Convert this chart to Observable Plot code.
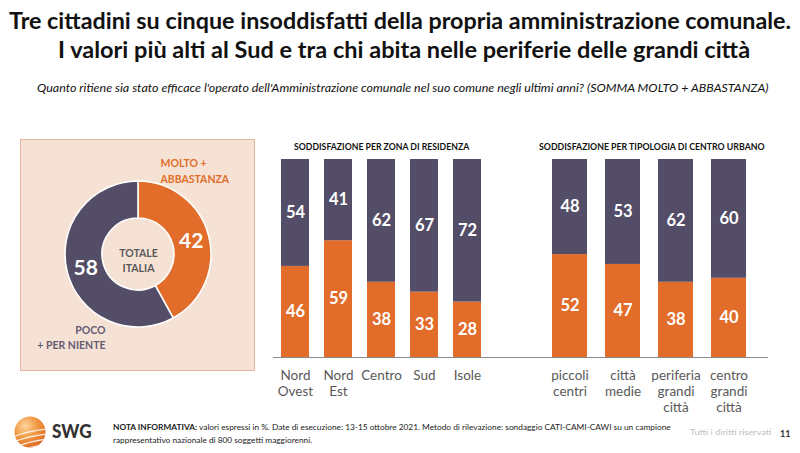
<!DOCTYPE html>
<html><head><meta charset="utf-8">
<script src="https://cdn.jsdelivr.net/npm/d3@7"></script>
<script src="https://cdn.jsdelivr.net/npm/@observablehq/plot@0.6"></script>
<style>
body{margin:0;background:#fff;font-family:Lato,"Open Sans",sans-serif;}
#page{position:relative;width:800px;height:453px;overflow:hidden;background:#fff;}
.t{position:absolute;white-space:nowrap;}
.abs{position:absolute;}
</style></head><body><div id="page"></div>
<script>
// ---- data ----
const zoneCats = ["Nord Ovest", "Nord Est", "Centro", "Sud", "Isole"];
const zoneLabels = ["Nord\nOvest", "Nord\nEst", "Centro", "Sud", "Isole"];
const zoneMolto = [46, 59, 38, 33, 28];
const zonePoco = [54, 41, 62, 67, 72];

const urbanCats = ["piccoli centri", "città medie", "periferia grandi città", "centro grandi città"];
const urbanLabels = ["piccoli\ncentri", "città\nmedie", "periferia\ngrandi\ncittà", "centro\ngrandi\ncittà"];
const urbanMolto = [52, 47, 38, 40];
const urbanPoco = [48, 53, 62, 60];

const totalSeries = ["molto", "poco"];
const totalValues = [42, 58];

const seriesKeys = ["molto", "poco"];
const ORANGE = "#E26D2B";
const DARK = "#544D68";

const page = document.getElementById("page");

function addText(html, o) {
  const el = document.createElement("div");
  el.className = "t";
  el.innerHTML = html;
  const lh = o.lh || o.size;
  Object.assign(el.style, {
    fontSize: o.size + "px", fontWeight: o.weight || "normal",
    fontStyle: o.italic ? "italic" : "normal", color: o.color || "#000",
    lineHeight: lh + "px", textAlign: o.align || "left",
    fontFamily: o.family || "Lato, 'Open Sans', sans-serif"
  });
  page.appendChild(el);
  const w = el.offsetWidth;
  const s = o.fitW ? o.fitW / w : 1;
  const ww = w * s;
  let left = o.x;
  if (o.anchor === "middle") left = o.x - ww / 2;
  else if (o.anchor === "end") left = o.x - ww;
  el.style.left = left + "px";
  el.style.top = (o.y - lh / 2) + "px";
  el.style.transformOrigin = "0 0";
  el.style.transform = `scaleX(${s})`;
  return el;
}

// ---- titles ----
addText("Tre cittadini su cinque insoddisfatti della propria amministrazione comunale.", {x: 400, y: 21, anchor: "middle", size: 22, weight: 700, color: "#111", fitW: 782});
addText("I valori più alti al Sud e tra chi abita nelle periferie delle grandi città", {x: 404, y: 50, anchor: "middle", size: 22, weight: 700, color: "#111", fitW: 692});
addText("Quanto ritiene sia stato efficace l'operato dell'Amministrazione comunale nel suo comune negli ultimi anni? (SOMMA MOLTO + ABBASTANZA)", {x: 402, y: 87, anchor: "middle", size: 11, italic: true, color: "#111", fitW: 731});

// ---- donut panel ----
const panel = document.createElement("div");
panel.className = "abs";
Object.assign(panel.style, {left: "20px", top: "139px", width: "233px", height: "230px", background: "#F6E2D5", border: "1px solid #E4B89E"});
page.appendChild(panel);

const totalRows = totalSeries.map((s, i) => ({s, v: totalValues[i]}));
const pie = d3.pie().sort(null).value(d => d.v)(totalRows);
const cx = 118, cy = 115;
const arc = d3.arc().innerRadius(36).outerRadius(73);
const donut = Plot.plot({
  width: 235, height: 232, margin: 0,
  x: {type: "identity", axis: null}, y: {type: "identity", axis: null},
  style: {background: "transparent", fontFamily: "Lato, sans-serif", overflow: "visible"},
  marks: [
    () => {
      const g = d3.create("svg:g").attr("transform", `translate(${cx},${cy})`);
      g.selectAll("path").data(pie).join("path")
        .attr("d", arc)
        .attr("fill", d => d.data.s === "molto" ? ORANGE : DARK)
        .attr("stroke", "#fff").attr("stroke-width", 1.6);
      return g.node();
    },
    Plot.text(pie, {x: d => cx + arc.centroid(d)[0], y: d => cy + arc.centroid(d)[1], text: d => d.data.v, fill: "white", fontSize: 21, fontWeight: "bold"}),
    Plot.text(["TOTALE\nITALIA"], {x: cx, y: cy + 5, text: d => d, fill: "#595959", fontSize: 10.5, fontWeight: "bold", lineHeight: 1.43}),
    Plot.text(["MOLTO +\nABBASTANZA"], {x: 140, y: 17, text: d => d, textAnchor: "start", lineAnchor: "top", fill: ORANGE, fontSize: 10.5, fontWeight: "bold", lineHeight: 1.45}),
    Plot.text(["POCO\n+ PER NIENTE"], {x: 85, y: 184, text: d => d, textAnchor: "end", lineAnchor: "top", fill: "#655B73", fontSize: 10.5, fontWeight: "bold", lineHeight: 1.4})
  ]
});
donut.style.position = "absolute";
donut.style.left = "20px";
donut.style.top = "139px";
page.appendChild(donut);

// ---- bar charts ----
function barChart(cats, labels, molto, poco, opt) {
  const rows = [];
  cats.forEach((c, i) => {
    rows.push({cat: c, s: seriesKeys[0], y1: 0, y2: molto[i], v: molto[i]});
    rows.push({cat: c, s: seriesKeys[1], y1: molto[i], y2: molto[i] + poco[i], v: poco[i]});
  });
  const lab = new Map(cats.map((c, i) => [c, labels[i]]));
  const p = Plot.plot({
    width: opt.width, height: 260, marginTop: 4, marginBottom: 58, marginLeft: 0, marginRight: 0,
    style: {fontFamily: "Lato, 'Open Sans', sans-serif", background: "transparent", overflow: "visible"},
    x: {domain: cats, range: [opt.r0, opt.r1], paddingInner: opt.padding, paddingOuter: 0, axis: null},
    y: {domain: [0, 100], axis: null},
    color: {domain: seriesKeys, range: [ORANGE, DARK]},
    marks: [
      Plot.barY(rows, {x: "cat", y1: "y1", y2: "y2", fill: "s"}),
      Plot.text(rows, {x: "cat", y: d => (d.y1 + d.y2) / 2, text: "v", fill: "white", fontSize: 16.5, fontWeight: "bold"}),
      Plot.ruleY([0], {stroke: "#8a8a8a", strokeWidth: 1}),
      Plot.text(cats, {x: d => d, y: 0, text: d => lab.get(d), lineAnchor: "top", dy: 11, fontSize: 13.5, lineHeight: 1.2, fill: "#595959"})
    ]
  });
  p.style.position = "absolute";
  p.style.left = opt.left + "px";
  p.style.top = "155px";
  page.appendChild(p);
}

barChart(zoneCats, zoneLabels, zoneMolto, zonePoco, {left: 273, width: 247, r0: 7.7, r1: 207.4, padding: 0.356});
barChart(urbanCats, urbanLabels, urbanMolto, urbanPoco, {left: 520, width: 248, r0: 30.7, r1: 227.3, padding: 0.339});

addText("SODDISFAZIONE PER ZONA DI RESIDENZA", {x: 381, y: 147, anchor: "middle", size: 8.5, weight: 700, color: "#111", fitW: 175});
addText("SODDISFAZIONE PER TIPOLOGIA DI CENTRO URBANO", {x: 652, y: 147, anchor: "middle", size: 8.5, weight: 700, color: "#111", fitW: 226});

// ---- footer ----
const logo = document.createElementNS("http://www.w3.org/2000/svg", "svg");
logo.setAttribute("width", 34); logo.setAttribute("height", 34);
logo.style.position = "absolute"; logo.style.left = "13px"; logo.style.top = "415px";
logo.innerHTML = `<defs><radialGradient id="lg" cx="35%" cy="30%" r="75%"><stop offset="0" stop-color="#FCD3A0"/><stop offset="0.45" stop-color="#F3A04A"/><stop offset="1" stop-color="#E0691F"/></radialGradient><clipPath id="lc"><circle cx="17" cy="17" r="15.5"/></clipPath></defs>
<circle cx="17" cy="17" r="15.5" fill="url(#lg)"/>
<g clip-path="url(#lc)" fill="none" stroke="#fff" stroke-opacity="0.85" stroke-width="1.4">
<path d="M0,22 Q14,16 34,14"/><path d="M0,27 Q16,21 34,19"/><path d="M2,32 Q18,26 34,24"/><path d="M6,36 Q20,31 34,29"/></g>`;
page.appendChild(logo);
addText("SWG", {x: 52, y: 431, size: 18, weight: 900, color: "#333", fitW: 40});

addText("<b>NOTA INFORMATIVA:</b> valori espressi in %. Date di esecuzione: 13-15 ottobre 2021. Metodo di rilevazione: sondaggio CATI-CAMI-CAWI su un campione<br>rappresentativo nazionale di 800 soggetti maggiorenni.", {x: 113, y: 427, size: 8, lh: 13, color: "#222", fitW: 558});
addText("Tutti i diritti riservati", {x: 690, y: 433, size: 7.5, color: "#bdbdbd", fitW: 81});
addText("11", {x: 780, y: 433, size: 9, weight: 700, color: "#333", fitW: 10});
</script>
</body></html>
